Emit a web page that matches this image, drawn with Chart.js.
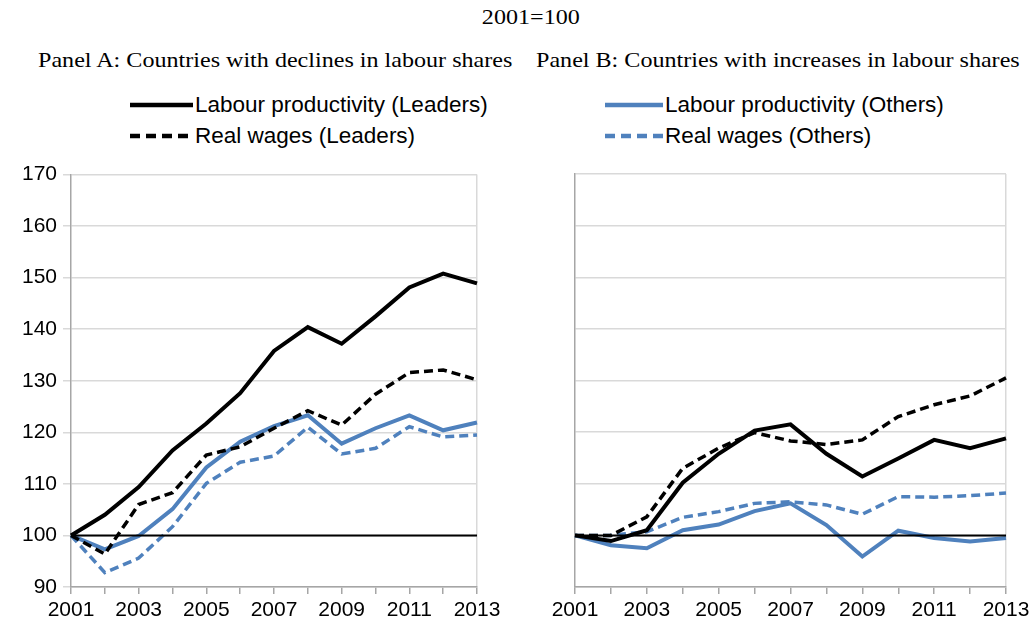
<!DOCTYPE html>
<html>
<head>
<meta charset="utf-8">
<script src="https://cdn.jsdelivr.net/npm/chart.js@4"></script>
<style>
  body { margin: 0; width: 1034px; height: 632px; background: #fff; position: relative; overflow: hidden; }
  .title { position: absolute; font-family: 'Liberation Serif', 'Times New Roman', serif; font-size: 22px; color: #000; white-space: nowrap; transform: scaleX(1.095); transform-origin: left center; }
  .legend { position: absolute; font-family: 'Liberation Sans', Arial, sans-serif; font-size: 22.5px; color: #000; white-space: nowrap; }
  .legend div { height: 31px; display: flex; align-items: center; }
  .legend svg { margin-right: 2px; }
  .panel { position: absolute; }
</style>
</head>
<body>
<div class="title" style="left:14px;width:944px;text-align:center;top:4px;">2001=100</div>
<div class="title" style="left:38px;top:47px;">Panel A: Countries with declines in labour shares</div>
<div class="title" style="left:536px;top:47px;">Panel B: Countries with increases in labour shares</div>

<div class="legend" style="left:130px;top:89px;">
  <div><svg width="63" height="8"><line x1="0" y1="4" x2="63" y2="4" stroke="#000" stroke-width="4.5"/></svg>Labour productivity (Leaders)</div>
  <div><svg width="63" height="8"><line x1="0" y1="4" x2="63" y2="4" stroke="#000" stroke-width="4.5" stroke-dasharray="10,6"/></svg>Real wages (Leaders)</div>
</div>
<div class="legend" style="left:605px;top:89px;">
  <div><svg width="58" height="8"><line x1="0" y1="4" x2="58" y2="4" stroke="#4f81bd" stroke-width="4.5"/></svg>Labour productivity (Others)</div>
  <div><svg width="58" height="8"><line x1="0" y1="4" x2="58" y2="4" stroke="#4f81bd" stroke-width="4.5" stroke-dasharray="10,6"/></svg>Real wages (Others)</div>
</div>

<div class="panel" style="left:0;top:156px;width:507px;height:476px;"><canvas id="panelA"></canvas></div>
<div class="panel" style="left:520px;top:160px;width:514px;height:472px;"><canvas id="panelB"></canvas></div>

<script>
const years = ['2001','2002','2003','2004','2005','2006','2007','2008','2009','2010','2011','2012','2013'];
const baseline = [100,100,100,100,100,100,100,100,100,100,100,100,100];

// Panel A: countries with declines in labour shares
const prodLeadersA  = [100, 104.0, 109.4, 116.5, 121.7, 127.6, 135.8, 140.4, 137.2, 142.5, 148.1, 150.8, 148.9];
const wagesLeadersA = [100, 96.4, 106.0, 108.3, 115.6, 117.2, 120.8, 124.2, 121.4, 127.4, 131.6, 132.1, 130.2];
const prodOthersA   = [100, 97.3, 99.9, 105.1, 113.2, 118.2, 121.2, 123.3, 117.8, 120.8, 123.3, 120.4, 121.9];
const wagesOthersA  = [100, 92.8, 95.6, 101.7, 110.1, 114.2, 115.4, 121.0, 115.8, 116.9, 121.1, 119.1, 119.5];

// Panel B: countries with increases in labour shares
const prodLeadersB  = [100, 98.9, 101.0, 110.2, 115.8, 120.3, 121.5, 115.8, 111.4, 114.9, 118.5, 116.9, 118.8];
const wagesLeadersB = [100, 100.0, 103.6, 113.0, 116.9, 119.9, 118.3, 117.6, 118.5, 123.0, 125.3, 127.0, 130.5];
const prodOthersB   = [100, 98.1, 97.5, 101.0, 102.1, 104.7, 106.2, 102.0, 95.9, 100.9, 99.5, 98.8, 99.5];
const wagesOthersB  = [100, 100.0, 100.7, 103.5, 104.6, 106.2, 106.5, 105.9, 104.1, 107.5, 107.4, 107.7, 108.2];

const yTicks = { min: 90, max: 170, step: 10 };

const BLACK = '#000000';
const BLUE = '#4f81bd';
const GRID = '#d9d9d9';
const AXIS = '#a6a6a6';
const tickFont = { family: "'Liberation Sans', Arial, sans-serif", size: 21 };

function series(label, data, color, dashed) {
    return {
        label, data,
        borderColor: color,
        backgroundColor: color,
        borderWidth: dashed ? 3.5 : 4,
        borderDash: dashed ? [9, 5] : [],
        pointRadius: 0,
        tension: 0,
        fill: false,
    };
}

function makePanel(id, data, showYLabels, yWidth, padTop, padRight) {
    const datasets = [
        { label: 'base', data: baseline, borderColor: BLACK, borderWidth: 2, pointRadius: 0, fill: false },
        series('Labour productivity (Leaders)', data[0], BLACK, false),
        series('Real wages (Leaders)', data[1], BLACK, true),
        series('Labour productivity (Others)', data[2], BLUE, false),
        series('Real wages (Others)', data[3], BLUE, true),
    ];
    return new Chart(document.getElementById(id), {
        type: 'line',
        data: { labels: years, datasets },
        options: {
            responsive: true,
            maintainAspectRatio: false,
            animation: false,
            layout: { padding: { top: padTop, right: padRight, bottom: 0, left: 0 } },
            plugins: { legend: { display: false }, tooltip: { enabled: false } },
            scales: {
                x: {
                    offset: false,
                    grid: {
                        color: (c) => c.index === years.length - 1 ? GRID : 'rgba(0,0,0,0)',
                        lineWidth: 1.5,
                        drawTicks: true,
                        tickLength: 7,
                        tickColor: AXIS,
                        tickWidth: 1.5,
                    },
                    border: { color: AXIS, width: 1.5 },
                    ticks: {
                        autoSkip: false, maxRotation: 0, minRotation: 0,
                        color: BLACK, font: tickFont, padding: 4,
                        callback: (v, i) => i % 2 === 0 ? years[i] : '',
                    },
                    afterFit: (s) => { s.height = 45; },
                },
                y: {
                    min: yTicks.min, max: yTicks.max,
                    grid: {
                        color: GRID, lineWidth: 1.5,
                        drawTicks: showYLabels, tickLength: 8, tickColor: GRID,
                    },
                    border: { color: AXIS, width: 1.5 },
                    ticks: {
                        display: showYLabels, stepSize: yTicks.step,
                        color: BLACK, font: tickFont, padding: 6,
                    },
                    afterFit: (s) => { s.width = yWidth; },
                },
            },
        },
    });
}

makePanel('panelA', [prodLeadersA, wagesLeadersA, prodOthersA, wagesOthersA], true, 71, 10, 30);
makePanel('panelB', [prodLeadersB, wagesLeadersB, prodOthersB, wagesOthersB], false, 55, 14, 28);
</script>
</body>
</html>
